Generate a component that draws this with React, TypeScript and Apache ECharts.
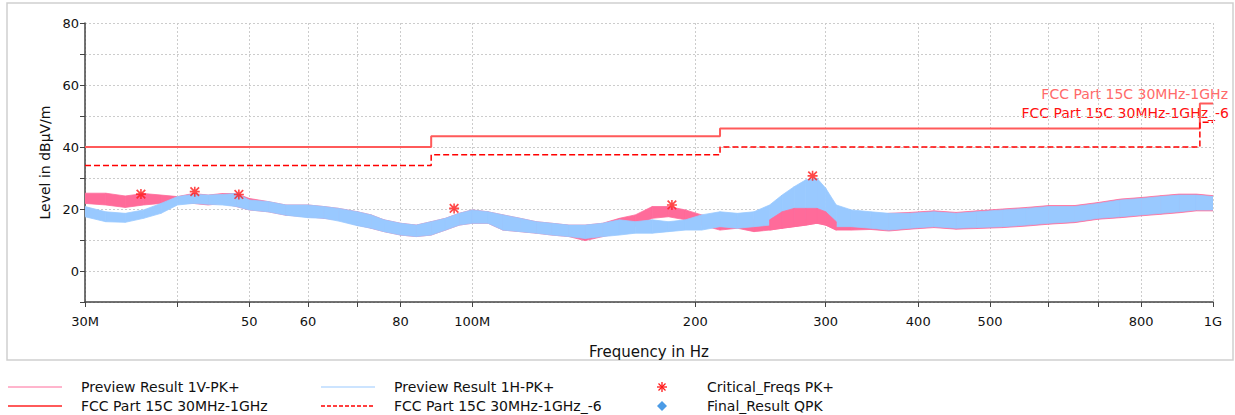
import React, { useEffect, useRef } from "react";
import * as echarts from "echarts";

// Frequencies in MHz at which the trace envelopes were read
const FREQ_MHZ = [30, 32, 34, 36, 38, 40, 42, 44, 46, 48, 50, 53, 56, 60, 63, 66, 70, 73, 76, 80, 84, 88, 92, 96, 100, 105, 110, 116, 122, 128, 135, 142, 150, 158, 166, 175, 184, 194, 204, 216, 228, 240, 252, 262, 272, 282, 292, 300, 310, 325, 345, 365, 390, 420, 450, 480, 520, 560, 600, 650, 700, 750, 800, 850, 900, 950, 1000];

// Preview Result 1V-PK+ (upper / lower edge of the noisy trace)
const V_UP = [25.1, 25.1, 24.2, 25.0, 24.5, 24.0, 25.0, 24.5, 25.0, 25.0, 23.4, 22.4, 21.3, 21.3, 20.8, 20.2, 19.1, 18.1, 16.5, 15.4, 14.8, 15.9, 17.0, 18.6, 19.7, 19.1, 18.1, 17.0, 15.9, 15.4, 14.8, 14.8, 15.4, 17.0, 18.1, 20.8, 20.8, 19.7, 18.1, 16.5, 17.5, 16.5, 16.5, 19.1, 20.2, 20.2, 20.2, 19.1, 15.9, 15.4, 17.3, 18.6, 18.9, 19.4, 18.9, 19.4, 20.0, 20.5, 21.1, 21.1, 22.1, 23.2, 23.7, 24.3, 24.8, 24.8, 24.3];
const V_LO = [21.8, 21.3, 20.5, 21.3, 21.8, 21.8, 21.8, 21.3, 21.8, 20.8, 19.7, 19.1, 18.0, 17.5, 17.0, 16.5, 14.8, 13.8, 12.7, 11.6, 11.1, 11.6, 13.2, 14.8, 15.4, 15.4, 13.2, 12.7, 12.2, 11.6, 11.1, 9.8, 11.1, 12.2, 14.3, 17.0, 17.5, 16.5, 14.8, 13.2, 13.8, 12.7, 13.2, 13.8, 14.3, 14.8, 15.4, 14.8, 13.2, 13.2, 13.4, 12.9, 13.5, 14.0, 13.5, 13.7, 14.0, 14.5, 15.1, 15.6, 16.7, 17.2, 17.8, 18.3, 18.8, 19.4, 19.4];

// Preview Result 1H-PK+ (upper / lower edge of the noisy trace)
const H_UP = [20.8, 19.1, 18.6, 19.7, 21.8, 24.0, 24.7, 24.5, 24.7, 25.0, 22.9, 22.4, 21.3, 21.3, 20.8, 20.2, 19.1, 18.1, 16.5, 15.4, 14.8, 15.9, 17.0, 18.6, 19.7, 19.1, 18.1, 17.0, 15.9, 15.4, 14.8, 14.8, 15.4, 16.5, 15.9, 16.5, 15.9, 16.5, 18.1, 19.1, 18.6, 19.1, 21.3, 24.5, 27.2, 29.4, 29.9, 26.7, 21.3, 19.7, 19.1, 18.6, 18.6, 19.1, 18.6, 19.1, 19.7, 20.2, 20.8, 20.8, 21.8, 22.9, 23.4, 24.0, 24.5, 24.5, 24.0];
const H_LO = [17.5, 15.9, 15.7, 17.0, 18.6, 21.3, 21.8, 21.5, 21.3, 20.8, 19.7, 19.1, 18.0, 17.2, 17.0, 16.1, 14.6, 13.8, 12.7, 11.6, 11.1, 11.6, 13.2, 14.8, 15.4, 15.4, 13.2, 12.7, 12.2, 11.6, 11.1, 10.5, 11.1, 11.6, 12.2, 12.2, 12.7, 13.2, 13.2, 14.3, 13.8, 14.3, 14.8, 15.9, 16.5, 17.0, 17.0, 16.5, 14.3, 14.3, 13.8, 13.2, 13.8, 14.3, 13.8, 14.0, 14.3, 14.8, 15.4, 15.9, 17.0, 17.5, 18.1, 18.6, 19.1, 19.7, 19.7];

// FCC Part 15C limit lines
const LIMIT_F = [30, 88, 216, 960, 1000];
const LIMIT_V = [40, 43.5, 46, 54, 54];
const LIMIT6_V = [34, 37.5, 40, 48, 48];

// Critical_Freqs PK+
const CRIT_F = [35.7, 42.2, 48.4, 94.5, 186, 288];
const CRIT_V = [24.8, 25.6, 24.7, 20.2, 21.3, 30.7];

// Final_Result QPK (no points in the plot)
const FINAL_F: number[] = [];
const FINAL_V: number[] = [];

// Axes
const X_TICK_F = [30, 40, 50, 60, 70, 80, 100, 200, 300, 400, 500, 600, 700, 800, 1000];
const X_LABEL_F = [30, 50, 60, 80, 100, 200, 300, 400, 500, 800, 1000];
const X_LABEL_T = ["30M", "50", "60", "80", "100M", "200", "300", "400", "500", "800", "1G"];
const Y_MIN = -10;
const Y_MAX = 80;
const Y_STEP = 10;
const Y_LABEL_STEP = 20;

const PINK = "#ff6b9a";
const BLUE = "#99c9ff";
const LIMIT_RED = "#ff5a5a";
const DASH_RED = "#ff0000";
const FONT = "DejaVu Sans";

const lg = (f: number) => Math.log10(f);

const ASTERISK =
  "path://M4.2,0 H5.8 V10 H4.2 Z M0,4.2 H10 V5.8 H0 Z M1.3,0.1 L9.9,8.7 L8.7,9.9 L0.1,1.3 Z M8.7,0.1 L9.9,1.3 L1.3,9.9 L0.1,8.7 Z";

// one quad per consecutive pair of read frequencies, filled between lower and upper edge
function band(name: string, idx: number[], lo: number[], up: number[], color: string, z: number) {
  const data: number[][] = [];
  for (let k = 0; k < idx.length - 1; k++) {
    const i = idx[k];
    const j = idx[k + 1];
    data.push([lg(FREQ_MHZ[i]), lo[i], up[i], lg(FREQ_MHZ[j]), lo[j], up[j]]);
  }
  return {
    type: "custom",
    name,
    z,
    silent: true,
    clip: true,
    encode: { x: [0, 3], y: [1, 2, 4, 5] },
    renderItem: (params: any, api: any) => {
      const a1 = api.coord([api.value(0), api.value(2)]);
      const b1 = api.coord([api.value(3), api.value(5)]);
      const b0 = api.coord([api.value(3), api.value(4)]);
      const a0 = api.coord([api.value(0), api.value(1)]);
      return {
        type: "polygon",
        shape: { points: [a1, b1, b0, a0] },
        style: { fill: color, stroke: color, lineWidth: 0.8 },
      };
    },
    data,
  };
}

export default function App() {
  const ref = useRef<HTMLDivElement>(null);

  useEffect(() => {
    if (!ref.current) return;
    const chart = echarts.init(ref.current, null, { renderer: "svg" });
    const all = FREQ_MHZ.map((_, i) => i);
    const peak = FREQ_MHZ.map((f, i) => (f >= 252 && f <= 310 ? i : -1)).filter((i) => i >= 0);
    const xTicks = X_TICK_F.map(lg);
    const xLabels = X_LABEL_F.map(lg);

    const legendY1 = 387;
    const legendY2 = 406;
    const legendText = (x: number, y: number, text: string) => ({
      type: "text",
      x,
      y,
      style: { text, fill: "#111", font: `14px '${FONT}'`, textVerticalAlign: "middle", textAlign: "left" },
    });

    chart.setOption({
      animation: false,
      backgroundColor: "#ffffff",
      grid: { left: 85, top: 23, width: 1128, height: 279, containLabel: false },
      xAxis: {
        type: "value",
        min: lg(30),
        max: lg(1000),
        name: "Frequency in Hz",
        nameLocation: "middle",
        nameGap: 42,
        nameTextStyle: { fontFamily: FONT, fontSize: 15, color: "#111" },
        axisLine: { show: true, onZero: false, lineStyle: { color: "#444", width: 1.5 } },
        axisTick: { show: true, inside: false, length: 5, customValues: xTicks, lineStyle: { color: "#444" } },
        axisLabel: {
          customValues: xLabels,
          margin: 13,
          fontFamily: FONT,
          fontSize: 13,
          color: "#111",
          formatter: (v: number) => {
            const k = xLabels.findIndex((t) => Math.abs(t - v) < 1e-6);
            return k >= 0 ? X_LABEL_T[k] : "";
          },
        },
        splitLine: { show: true, lineStyle: { color: "#cccccc", type: [2, 2], width: 1 } },
      },
      yAxis: {
        type: "value",
        min: Y_MIN,
        max: Y_MAX,
        interval: Y_STEP,
        name: "Level in dBµV/m",
        nameLocation: "middle",
        nameGap: 31,
        nameTextStyle: { fontFamily: FONT, fontSize: 14, color: "#111" },
        axisLine: { show: true, onZero: false, lineStyle: { color: "#444", width: 1.5 } },
        axisTick: { show: true, inside: false, length: 5, lineStyle: { color: "#444" } },
        axisLabel: {
          margin: 6,
          fontFamily: FONT,
          fontSize: 13,
          color: "#111",
          formatter: (v: number) => (v % Y_LABEL_STEP === 0 ? String(v) : ""),
        },
        splitLine: { show: true, lineStyle: { color: "#cccccc", type: [2, 2], width: 1 } },
      },
      series: [
        band("Preview Result 1V-PK+", all, V_LO, V_UP, PINK, 2),
        band("Preview Result 1H-PK+", all, H_LO, H_UP, BLUE, 3),
        band("Preview Result 1V-PK+ (300 MHz)", peak, V_LO, V_UP, PINK, 4),
        {
          type: "line",
          name: "FCC Part 15C 30MHz-1GHz",
          step: "end",
          symbol: "none",
          z: 5,
          lineStyle: { color: LIMIT_RED, width: 2 },
          data: LIMIT_F.map((f, i) => [lg(f), LIMIT_V[i]]),
        },
        {
          type: "line",
          name: "FCC Part 15C 30MHz-1GHz_-6",
          step: "end",
          symbol: "none",
          z: 5,
          lineStyle: { color: DASH_RED, width: 1.5, type: [6, 3] },
          data: LIMIT_F.map((f, i) => [lg(f), LIMIT6_V[i]]),
        },
        {
          type: "scatter",
          name: "Critical_Freqs PK+",
          symbol: ASTERISK,
          symbolSize: 10,
          itemStyle: { color: "#ff1a1a" },
          data: CRIT_F.map((f, i) => [lg(f), CRIT_V[i]]),
          z: 6,
        },
        {
          type: "scatter",
          name: "Final_Result QPK",
          symbol: "diamond",
          symbolSize: 10,
          itemStyle: { color: "#4b9be6" },
          data: FINAL_F.map((f, i) => [lg(f), FINAL_V[i]]),
          z: 6,
        },
      ],
      graphic: [
        {
          type: "rect",
          shape: { x: 7, y: 3, width: 1226, height: 357 },
          style: { fill: "none", stroke: "#cfcfcf", lineWidth: 1.5 },
          silent: true,
        },
        {
          type: "text",
          x: 1228,
          y: 94,
          style: { text: "FCC Part 15C 30MHz-1GHz", fill: "#ff6a6a", font: `14px '${FONT}'`, textAlign: "right", textVerticalAlign: "middle" },
        },
        {
          type: "text",
          x: 1229,
          y: 113,
          style: { text: "FCC Part 15C 30MHz-1GHz_-6", fill: "#ff1010", font: `14px '${FONT}'`, textAlign: "right", textVerticalAlign: "middle" },
        },
        // legend row 1
        { type: "line", shape: { x1: 8, y1: legendY1, x2: 62, y2: legendY1 }, style: { stroke: PINK, lineWidth: 1 } },
        legendText(81, legendY1, "Preview Result 1V-PK+"),
        { type: "line", shape: { x1: 321, y1: legendY1, x2: 375, y2: legendY1 }, style: { stroke: BLUE, lineWidth: 1 } },
        legendText(394, legendY1, "Preview Result 1H-PK+"),
        { type: "line", shape: { x1: 662, y1: legendY1 - 5, x2: 662, y2: legendY1 + 5 }, style: { stroke: "#ff1a1a", lineWidth: 1.3 } },
        { type: "line", shape: { x1: 657, y1: legendY1, x2: 667, y2: legendY1 }, style: { stroke: "#ff1a1a", lineWidth: 1.3 } },
        { type: "line", shape: { x1: 658.5, y1: legendY1 - 3.5, x2: 665.5, y2: legendY1 + 3.5 }, style: { stroke: "#ff1a1a", lineWidth: 1.3 } },
        { type: "line", shape: { x1: 665.5, y1: legendY1 - 3.5, x2: 658.5, y2: legendY1 + 3.5 }, style: { stroke: "#ff1a1a", lineWidth: 1.3 } },
        legendText(707, legendY1, "Critical_Freqs PK+"),
        // legend row 2
        { type: "line", shape: { x1: 8, y1: legendY2, x2: 62, y2: legendY2 }, style: { stroke: LIMIT_RED, lineWidth: 2 } },
        legendText(81, legendY2, "FCC Part 15C 30MHz-1GHz"),
        { type: "line", shape: { x1: 321, y1: legendY2, x2: 375, y2: legendY2 }, style: { stroke: DASH_RED, lineWidth: 1.5, lineDash: [4, 2] } },
        legendText(394, legendY2, "FCC Part 15C 30MHz-1GHz_-6"),
        {
          type: "polygon",
          shape: { points: [[662, legendY2 - 5], [667, legendY2], [662, legendY2 + 5], [657, legendY2]] },
          style: { fill: "#4b9be6" },
        },
        legendText(707, legendY2, "Final_Result QPK"),
      ],
    });
    return () => chart.dispose();
  }, []);

  return (
    <div
      ref={ref}
      style={{ position: "absolute", left: 0, top: 0, width: 1235, height: 415, background: "#fff" }}
    />
  );
}
